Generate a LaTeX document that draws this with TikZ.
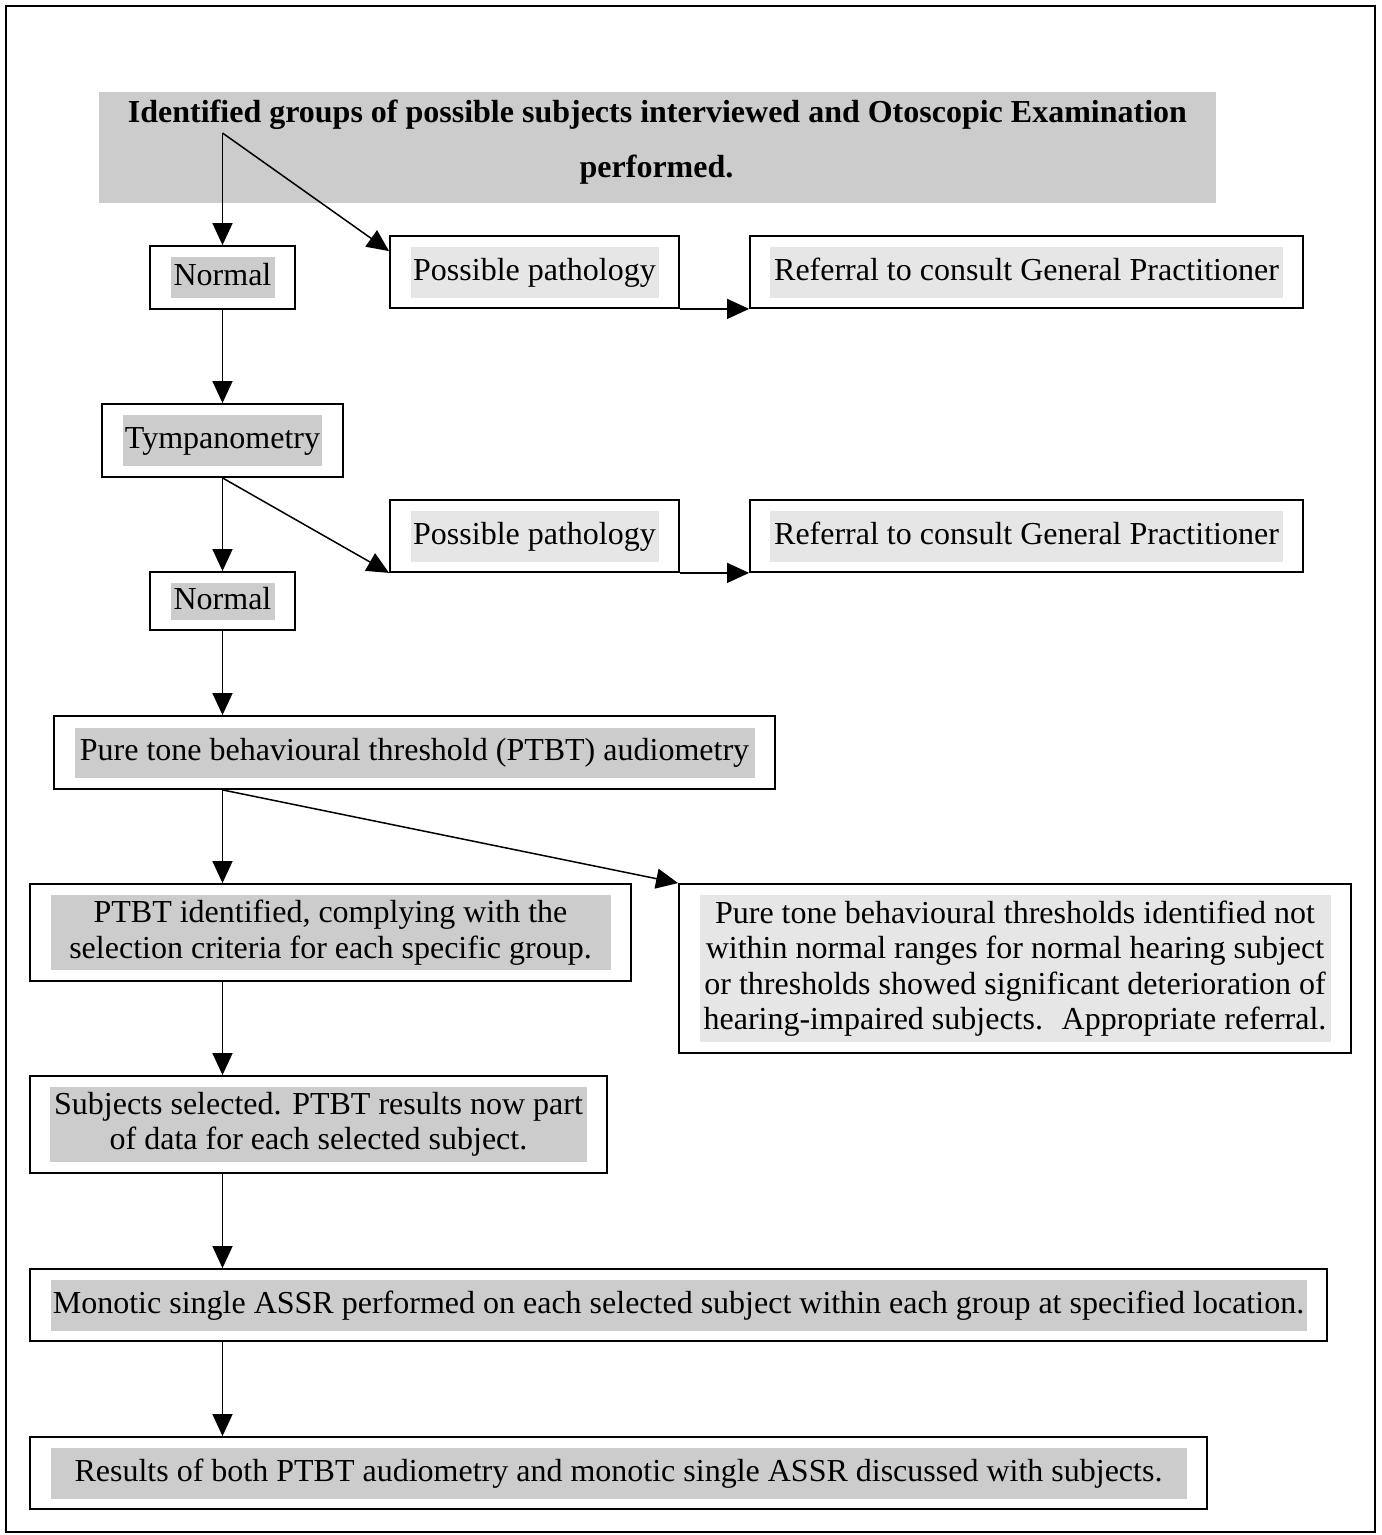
\documentclass[tikz,border=0pt]{standalone}
\usepackage{fontspec}
\setmainfont{Liberation Serif}
\usetikzlibrary{arrows.meta}
\definecolor{hldark}{HTML}{CCCCCC}
\definecolor{hllight}{HTML}{E6E6E6}
\begin{document}
\begin{tikzpicture}[x=1pt,y=-1pt,
  every node/.style={font=\fontsize{32}{35.5}\selectfont},
  box/.style={draw, line width=1.8pt, inner sep=0pt},
  hl/.style={inner sep=0pt, align=center},
  one/.style={text height=22.4pt, text depth=6.4pt},
  link/.style={line width=1.5pt, -{Triangle[length=22pt,width=20pt]}},
  titlefont/.style={font=\fontsize{32}{35}\selectfont\bfseries}]
\useasboundingbox (0,0) rectangle (1382,1535);
% outer frame
\draw[line width=2pt] (6,6) rectangle (1375,1532);

% heading band
\node[fill=hldark, inner sep=0pt, minimum width=1117pt, minimum height=111pt] (title) at (657.5,147.5) {};
\node[anchor=base, titlefont] (titleA) at (657.5,122) {Identified groups of possible subjects interviewed and Otoscopic Examination};
\node[anchor=base, titlefont] (titleB) at (656.5,177) {performed.};

% first stage
\node[box, minimum width=145pt, minimum height=63pt] (norm1) at (222.5,277.5) {};
\node[hl, one, fill=hldark, minimum width=104pt, minimum height=41pt] (norm1t) at (norm1) {Normal};
\node[box, minimum width=289pt, minimum height=72pt] (ppath1) at (534.5,272) {};
\node[hl, one, fill=hllight, minimum width=248pt, minimum height=51pt] (ppath1t) at (ppath1) {Possible pathology};
\node[box, minimum width=553pt, minimum height=72pt] (ref1) at (1026.5,272) {};
\node[hl, one, fill=hllight, minimum width=513pt, minimum height=51pt] (ref1t) at (ref1) {Referral to consult General Practitioner};

% tympanometry stage
\node[box, minimum width=241pt, minimum height=73pt] (tymp) at (222.5,440.5) {};
\node[hl, one, fill=hldark, minimum width=199pt, minimum height=51pt] (tympt) at (tymp) {Tympanometry};
\node[box, minimum width=289pt, minimum height=72pt] (ppath2) at (534.5,536) {};
\node[hl, one, fill=hllight, minimum width=248pt, minimum height=51pt] (ppath2t) at (ppath2) {Possible pathology};
\node[box, minimum width=553pt, minimum height=72pt] (ref2) at (1026.5,536) {};
\node[hl, one, fill=hllight, minimum width=513pt, minimum height=51pt] (ref2t) at (ref2) {Referral to consult General Practitioner};
\node[box, minimum width=145pt, minimum height=58pt] (norm2) at (222.5,601) {};
\node[hl, one, fill=hldark, minimum width=104pt, minimum height=37pt] (norm2t) at (norm2) {Normal};

% audiometry stage
\node[box, minimum width=721pt, minimum height=73pt] (ptbt) at (414.5,752.5) {};
\node[hl, one, fill=hldark, minimum width=680pt, minimum height=50pt] (ptbtt) at (ptbt) {Pure tone behavioural threshold (PTBT) audiometry};
\node[box, minimum width=601pt, minimum height=97pt] (ident) at (330.5,932.5) {};
\node[hl, fill=hldark, minimum width=560pt, minimum height=75pt] (identt) at (ident) {PTBT identified, complying with the\\selection criteria for each specific group.};
\node[box, minimum width=672pt, minimum height=169pt] (pure) at (1015,968.5) {};
\node[hl, fill=hllight, minimum width=631pt, minimum height=147pt] (puret) at (pure) {Pure tone behavioural thresholds identified not\\within normal ranges for normal hearing subject\\or thresholds showed significant deterioration of\\hearing-impaired subjects.~ Appropriate referral.};

% selection and testing
\node[box, minimum width=577pt, minimum height=97pt] (subj) at (318.5,1124.5) {};
\node[hl, fill=hldark, minimum width=537pt, minimum height=75pt] (subjt) at (subj) {Subjects selected. PTBT results now part\\of data for each selected subject.};
\node[box, minimum width=1297pt, minimum height=72pt] (mono) at (678.5,1305) {};
\node[hl, one, fill=hldark, minimum width=1256pt, minimum height=51pt] (monot) at (mono) {Monotic single ASSR performed on each selected subject within each group at specified location.};
\node[box, minimum width=1177pt, minimum height=72pt] (res) at (618.5,1473) {};
\node[hl, one, fill=hldark, minimum width=1136pt, minimum height=51pt] (rest) at (res) {Results of both PTBT audiometry and monotic single ASSR discussed with subjects.};

% connectors
\coordinate (spine) at (222.5,0);
\coordinate (fork) at (222.5,133);
\draw[link] (fork) -- (norm1.north);
\draw[link] (fork) -- ([yshift=-16pt]ppath1.north west);
\draw[link] (ppath1.south east) -- (ref1.south west);
\draw[link] (norm1.south) -- (tymp.north);
\draw[link] (tymp.south) -- (norm2.north);
\draw[link] (tymp.south) -- (ppath2.south west);
\draw[link] (ppath2.south east) -- (ref2.south west);
\draw[link] (norm2.south) -- (ptbt.north -| spine);
\draw[link] (ptbt.south -| spine) -- (ident.north -| spine);
\draw[link] (ptbt.south -| spine) -- (pure.north west);
\draw[link] (ident.south -| spine) -- (subj.north -| spine);
\draw[link] (subj.south -| spine) -- (mono.north -| spine);
\draw[link] (mono.south -| spine) -- (res.north -| spine);
\end{tikzpicture}
\end{document}
